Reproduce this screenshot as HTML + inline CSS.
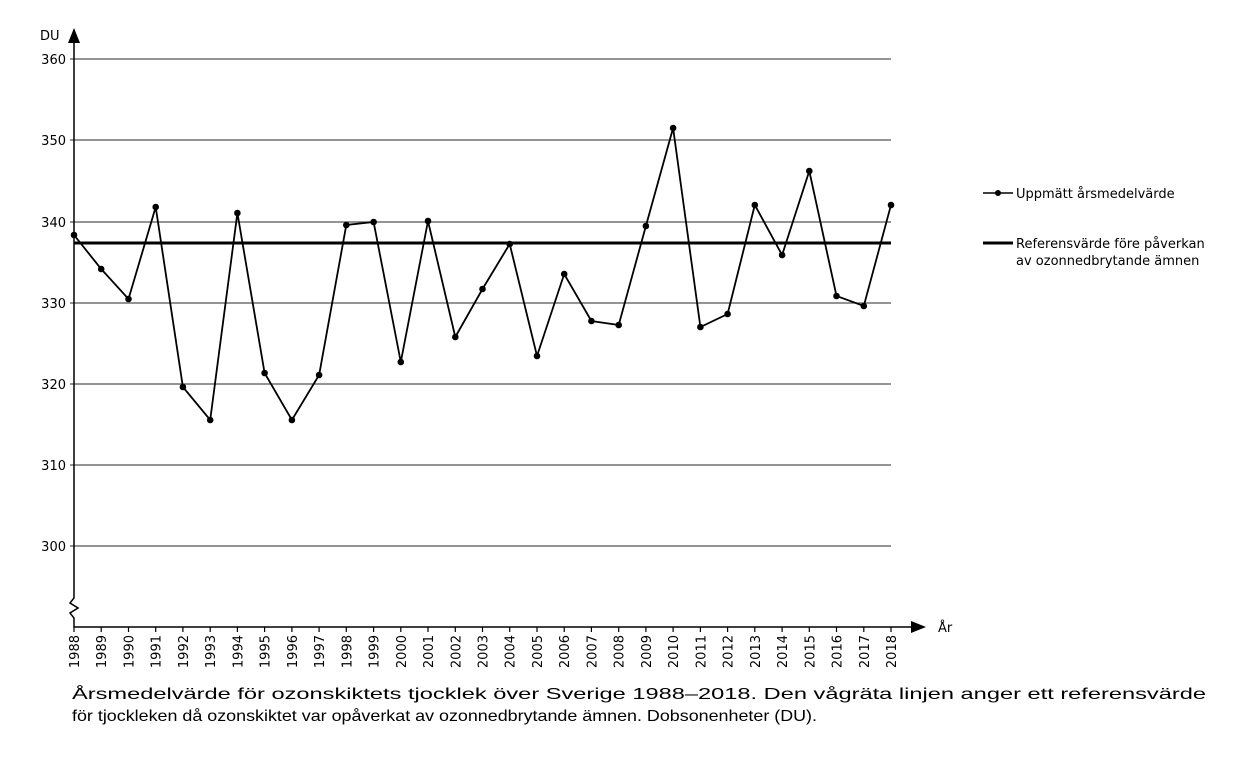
<!DOCTYPE html>
<html><head><meta charset="utf-8"><style>body{margin:0;background:#fff}</style></head><body>
<svg width="1248" height="772" xmlns="http://www.w3.org/2000/svg" font-family="DejaVu Sans, sans-serif" font-size="13">
<rect width="1248" height="772" fill="#fff"/>
<g stroke="#555" stroke-width="1.3">
<line x1="70" y1="59" x2="891" y2="59"/><line x1="70" y1="140" x2="891" y2="140"/><line x1="70" y1="222" x2="891" y2="222"/><line x1="70" y1="303" x2="891" y2="303"/><line x1="70" y1="384" x2="891" y2="384"/><line x1="70" y1="465" x2="891" y2="465"/><line x1="70" y1="546" x2="891" y2="546"/>
</g>
<g text-anchor="end" fill="#000">
<text x="66" y="64">360</text><text x="66" y="145">350</text><text x="66" y="227">340</text><text x="66" y="308">330</text><text x="66" y="389">320</text><text x="66" y="470">310</text><text x="66" y="551">300</text>
</g>
<text x="40" y="40">DU</text>
<text x="938" y="632">År</text>
<polyline fill="none" stroke="#000" stroke-width="1.5" points="74,30 74,598 70,603 78,608 70,613 74,618 74,627 912,627"/>
<polygon points="74,28 68,43 80,43" fill="#000"/>
<polygon points="926,627 911,621 911,633" fill="#000"/>
<g stroke="#000" stroke-width="1.2">
<line x1="74" y1="627" x2="74" y2="632"/><line x1="101.2" y1="627" x2="101.2" y2="632"/><line x1="128.5" y1="627" x2="128.5" y2="632"/><line x1="155.7" y1="627" x2="155.7" y2="632"/><line x1="182.9" y1="627" x2="182.9" y2="632"/><line x1="210.2" y1="627" x2="210.2" y2="632"/><line x1="237.4" y1="627" x2="237.4" y2="632"/><line x1="264.6" y1="627" x2="264.6" y2="632"/><line x1="291.9" y1="627" x2="291.9" y2="632"/><line x1="319.1" y1="627" x2="319.1" y2="632"/><line x1="346.3" y1="627" x2="346.3" y2="632"/><line x1="373.6" y1="627" x2="373.6" y2="632"/><line x1="400.8" y1="627" x2="400.8" y2="632"/><line x1="428" y1="627" x2="428" y2="632"/><line x1="455.3" y1="627" x2="455.3" y2="632"/><line x1="482.5" y1="627" x2="482.5" y2="632"/><line x1="509.7" y1="627" x2="509.7" y2="632"/><line x1="537" y1="627" x2="537" y2="632"/><line x1="564.2" y1="627" x2="564.2" y2="632"/><line x1="591.4" y1="627" x2="591.4" y2="632"/><line x1="618.7" y1="627" x2="618.7" y2="632"/><line x1="645.9" y1="627" x2="645.9" y2="632"/><line x1="673.1" y1="627" x2="673.1" y2="632"/><line x1="700.4" y1="627" x2="700.4" y2="632"/><line x1="727.6" y1="627" x2="727.6" y2="632"/><line x1="754.8" y1="627" x2="754.8" y2="632"/><line x1="782.1" y1="627" x2="782.1" y2="632"/><line x1="809.3" y1="627" x2="809.3" y2="632"/><line x1="836.5" y1="627" x2="836.5" y2="632"/><line x1="863.8" y1="627" x2="863.8" y2="632"/><line x1="891" y1="627" x2="891" y2="632"/>
</g>
<line x1="74" y1="243" x2="891" y2="243" stroke="#000" stroke-width="3"/>
<polyline fill="none" stroke="#000" stroke-width="1.8" points="74,235 101.2,269 128.5,299 155.7,207 182.9,387 210.2,420 237.4,213 264.6,373 291.9,420 319.1,375 346.3,225 373.6,222 400.8,362 428,221 455.3,337 482.5,289 509.7,244 537,356 564.2,274 591.4,321 618.7,325 645.9,226 673.1,128 700.4,327 727.6,314 754.8,205 782.1,255 809.3,171 836.5,296 863.8,306 891,205"/>
<g fill="#000">
<circle cx="74" cy="235" r="3.3"/><circle cx="101.2" cy="269" r="3.3"/><circle cx="128.5" cy="299" r="3.3"/><circle cx="155.7" cy="207" r="3.3"/><circle cx="182.9" cy="387" r="3.3"/><circle cx="210.2" cy="420" r="3.3"/><circle cx="237.4" cy="213" r="3.3"/><circle cx="264.6" cy="373" r="3.3"/><circle cx="291.9" cy="420" r="3.3"/><circle cx="319.1" cy="375" r="3.3"/><circle cx="346.3" cy="225" r="3.3"/><circle cx="373.6" cy="222" r="3.3"/><circle cx="400.8" cy="362" r="3.3"/><circle cx="428" cy="221" r="3.3"/><circle cx="455.3" cy="337" r="3.3"/><circle cx="482.5" cy="289" r="3.3"/><circle cx="509.7" cy="244" r="3.3"/><circle cx="537" cy="356" r="3.3"/><circle cx="564.2" cy="274" r="3.3"/><circle cx="591.4" cy="321" r="3.3"/><circle cx="618.7" cy="325" r="3.3"/><circle cx="645.9" cy="226" r="3.3"/><circle cx="673.1" cy="128" r="3.3"/><circle cx="700.4" cy="327" r="3.3"/><circle cx="727.6" cy="314" r="3.3"/><circle cx="754.8" cy="205" r="3.3"/><circle cx="782.1" cy="255" r="3.3"/><circle cx="809.3" cy="171" r="3.3"/><circle cx="836.5" cy="296" r="3.3"/><circle cx="863.8" cy="306" r="3.3"/><circle cx="891" cy="205" r="3.3"/>
</g>
<g fill="#000" text-anchor="end">
<text transform="translate(79,635) rotate(-90)">1988</text><text transform="translate(106.2,635) rotate(-90)">1989</text><text transform="translate(133.5,635) rotate(-90)">1990</text><text transform="translate(160.7,635) rotate(-90)">1991</text><text transform="translate(187.9,635) rotate(-90)">1992</text><text transform="translate(215.2,635) rotate(-90)">1993</text><text transform="translate(242.4,635) rotate(-90)">1994</text><text transform="translate(269.6,635) rotate(-90)">1995</text><text transform="translate(296.9,635) rotate(-90)">1996</text><text transform="translate(324.1,635) rotate(-90)">1997</text><text transform="translate(351.3,635) rotate(-90)">1998</text><text transform="translate(378.6,635) rotate(-90)">1999</text><text transform="translate(405.8,635) rotate(-90)">2000</text><text transform="translate(433,635) rotate(-90)">2001</text><text transform="translate(460.3,635) rotate(-90)">2002</text><text transform="translate(487.5,635) rotate(-90)">2003</text><text transform="translate(514.7,635) rotate(-90)">2004</text><text transform="translate(542,635) rotate(-90)">2005</text><text transform="translate(569.2,635) rotate(-90)">2006</text><text transform="translate(596.4,635) rotate(-90)">2007</text><text transform="translate(623.7,635) rotate(-90)">2008</text><text transform="translate(650.9,635) rotate(-90)">2009</text><text transform="translate(678.1,635) rotate(-90)">2010</text><text transform="translate(705.4,635) rotate(-90)">2011</text><text transform="translate(732.6,635) rotate(-90)">2012</text><text transform="translate(759.8,635) rotate(-90)">2013</text><text transform="translate(787.1,635) rotate(-90)">2014</text><text transform="translate(814.3,635) rotate(-90)">2015</text><text transform="translate(841.5,635) rotate(-90)">2016</text><text transform="translate(868.8,635) rotate(-90)">2017</text><text transform="translate(896,635) rotate(-90)">2018</text>
</g>
<line x1="983" y1="193" x2="1013" y2="193" stroke="#000" stroke-width="1.5"/><circle cx="998" cy="193" r="3"/>
<text x="1016" y="198">Uppmätt årsmedelvärde</text>
<line x1="983" y1="243" x2="1013" y2="243" stroke="#000" stroke-width="3"/>
<text x="1016" y="248">Referensvärde före påverkan</text>
<text x="1016" y="265">av ozonnedbrytande ämnen</text>
<g font-family="Liberation Sans, sans-serif" font-size="16">
<text x="72" y="699" textLength="1134" lengthAdjust="spacingAndGlyphs">Årsmedelvärde för ozonskiktets tjocklek över Sverige 1988–2018. Den vågräta linjen anger ett referensvärde</text>
<text x="72" y="721" textLength="745" lengthAdjust="spacingAndGlyphs">för tjockleken då ozonskiktet var opåverkat av ozonnedbrytande ämnen. Dobsonenheter (DU).</text>
</g>
</svg>
</body></html>
